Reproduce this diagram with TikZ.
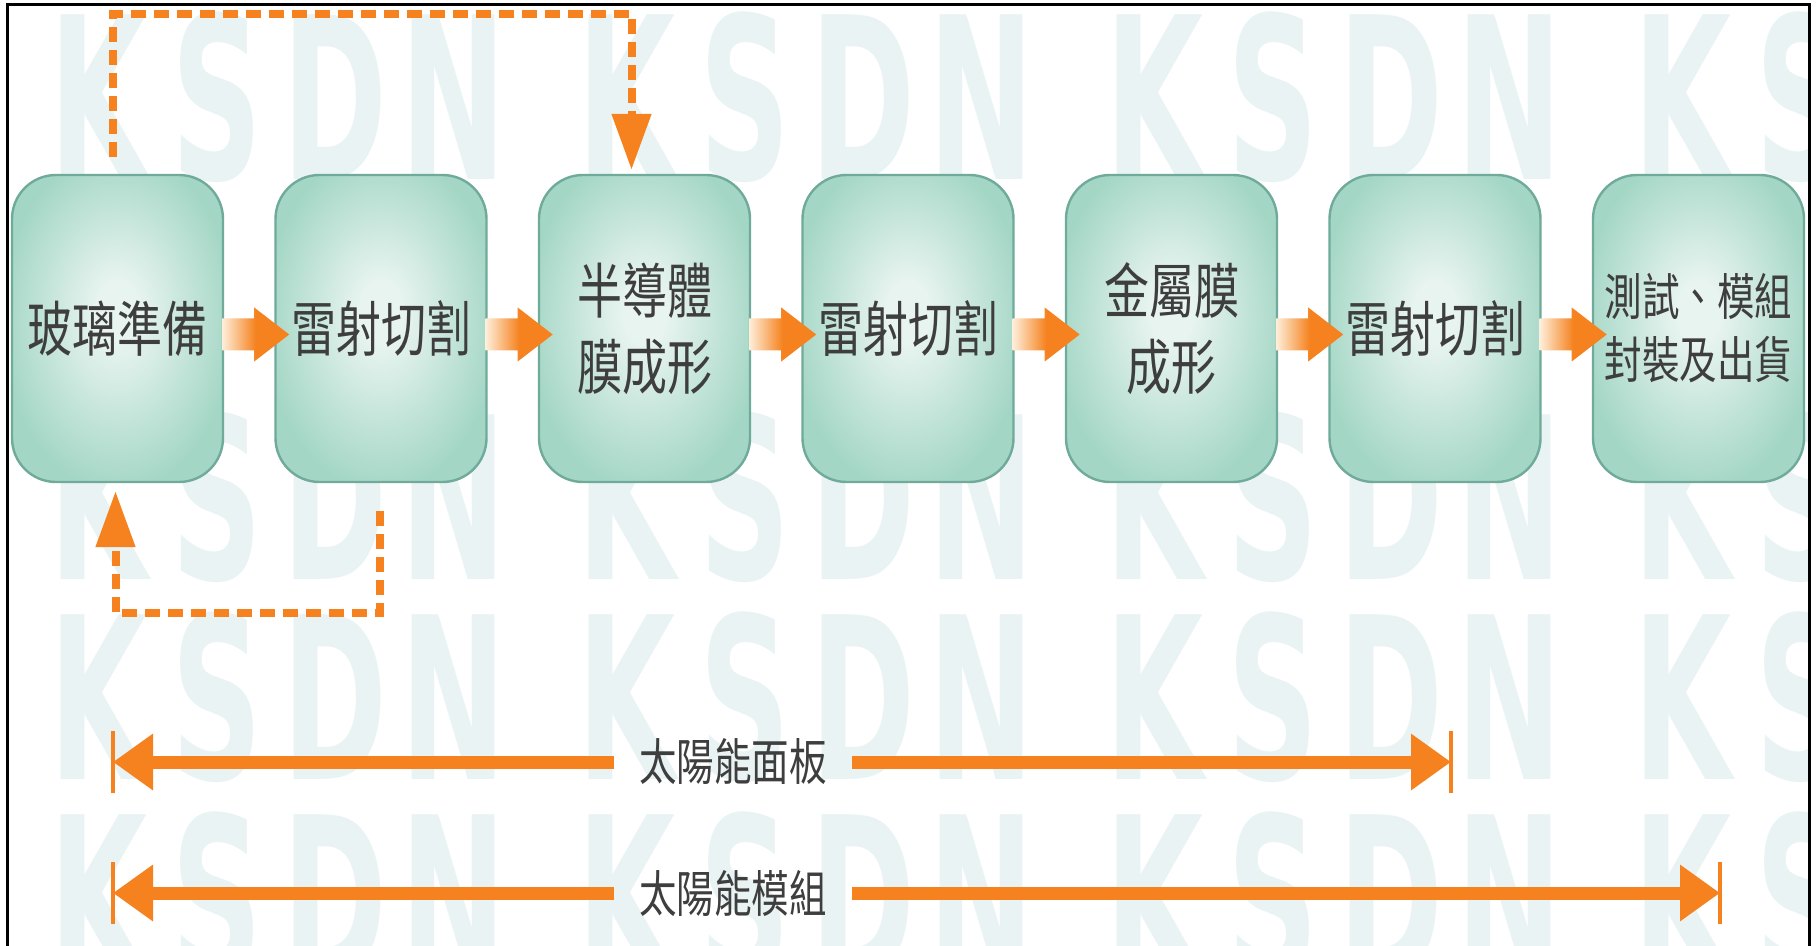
\documentclass[tikz,border=0pt]{standalone}
\usepackage{fontspec}
\newfontfamily\cjk{Noto Sans CJK TC}[FakeStretch=0.75]
\newfontfamily\wmfont{DejaVu Sans}[FakeStretch=0.56]
\usetikzlibrary{arrows.meta,calc}
\definecolor{orangeA}{RGB}{245,130,31}
\definecolor{orangeL}{RGB}{254,238,218}
\definecolor{boxin}{RGB}{232,244,240}
\definecolor{boxout}{RGB}{163,214,197}
\definecolor{boxedge}{RGB}{112,170,155}
\definecolor{wmcol}{RGB}{233,243,244}
\definecolor{txt}{RGB}{62,62,62}
\pgfdeclareradialshading{boxshade}{\pgfpoint{0bp}{3bp}}{color(0bp)=(boxin); color(5bp)=(boxin); color(28bp)=(boxout); color(50bp)=(boxout)}
\pgfdeclarehorizontalshading{arrowshade}{100bp}{color(0bp)=(orangeL); color(25bp)=(orangeL); color(50bp)=(orangeA); color(100bp)=(orangeA)}
\begin{document}
\begin{tikzpicture}[x=0.5pt,y=-0.5pt,
  stepbox/.style={draw=boxedge, line width=1.2pt, rounded corners=22pt, shading=boxshade,
    minimum width=105.5pt, minimum height=153.5pt, inner sep=0pt, align=center, text=txt,
    font=\cjk\fontsize{30}{38}\selectfont},
  smalltext/.style={font=\cjk\fontsize{25}{31.5}\selectfont},
  flowarrow/.style={shading=arrowshade},
  dashloop/.style={draw=orangeA, line width=4pt, dash pattern=on 7.5pt off 4pt, -{Triangle[length=28pt,width=19pt]}},
  panel/.style={draw=orangeA, line width=6.5pt, -{Triangle[length=20pt,width=27pt]}},
  tickmark/.style={draw=orangeA, line width=2pt},
  lab/.style={font=\cjk\fontsize{25}{30}\selectfont, text=txt, minimum width=119pt, inner sep=0pt, outer sep=0pt},
  wm/.style={font=\wmfont\bfseries\fontsize{113}{113}\selectfont, text=wmcol, inner sep=0pt}
]
\useasboundingbox (0,0) rectangle (1820,946);
\fill[white] (0,0) rectangle (1820,946);
% watermark
\begin{scope}
\clip (7,5) rectangle (1809,946);
\foreach \r in {97,497,697,897}{
  \foreach \g in {0,1,2,3,4}{
    \foreach \ch [count=\i from 0] in {K,S,D,N}{
      \node[wm] at ({99+528*\g+118*\i},\r) {\ch};
    }
  }
}
\end{scope}
% frame
\draw[line width=1.5pt] (7,946) -- (7,5) -- (1809,5) -- (1809,946);
% boxes
\node[stepbox] (b1) at (117.5,328.5) {玻璃準備};
\node[stepbox] (b2) at (381,328.5) {雷射切割};
\node[stepbox] (b3) at (644.5,328.5) {半導體\\膜成形};
\node[stepbox] (b4) at (908,328.5) {雷射切割};
\node[stepbox] (b5) at (1171.5,328.5) {金屬膜\\成形};
\node[stepbox] (b6) at (1435,328.5) {雷射切割};
\node[stepbox,smalltext] (b7) at (1698.5,328.5) {測試、模組\\封裝及出貨};
% flow arrows
\foreach \a in {b1,b2,b3,b4,b5,b6}{
  \shade[flowarrow] ($(\a.east)+(-2,-10)$) -- ++(32,0) -- ++(0,-11) -- ++(35,27) -- ++(-35,27) -- ++(0,-11) -- ++(-32,0) -- cycle;
}
% dashed loops
\draw[dashloop] ($(b1.north)+(-5,-17)$) -- ++(0,-143) -| ($(b3.north)+(-13,-4)$);
\draw[dashloop] ($(b2.south)+(-1,28)$) -- ++(0,102) -| ($(b1.south)+(-2,8)$);
% panel / module spans
\coordinate (pL1) at (113,762);
\coordinate (pR1) at (1451,762);
\coordinate (pL2) at (113,893);
\coordinate (pR2) at (1720,893);
\node[lab] (lab1) at (733,762) {太陽能面板};
\node[lab] (lab2) at (733,893) {太陽能模組};
\draw[panel] (lab1) -- (pL1);
\draw[panel] (lab1) -- (pR1);
\draw[panel] (lab2) -- (pL2);
\draw[panel] (lab2) -- (pR2);
\draw[tickmark] ($(pL1)+(0,-31)$) -- ($(pL1)+(0,31)$);
\draw[tickmark] ($(pR1)+(0,-31)$) -- ($(pR1)+(0,31)$);
\draw[tickmark] ($(pL2)+(0,-31)$) -- ($(pL2)+(0,31)$);
\draw[tickmark] ($(pR2)+(0,-31)$) -- ($(pR2)+(0,31)$);
\end{tikzpicture}
\end{document}
